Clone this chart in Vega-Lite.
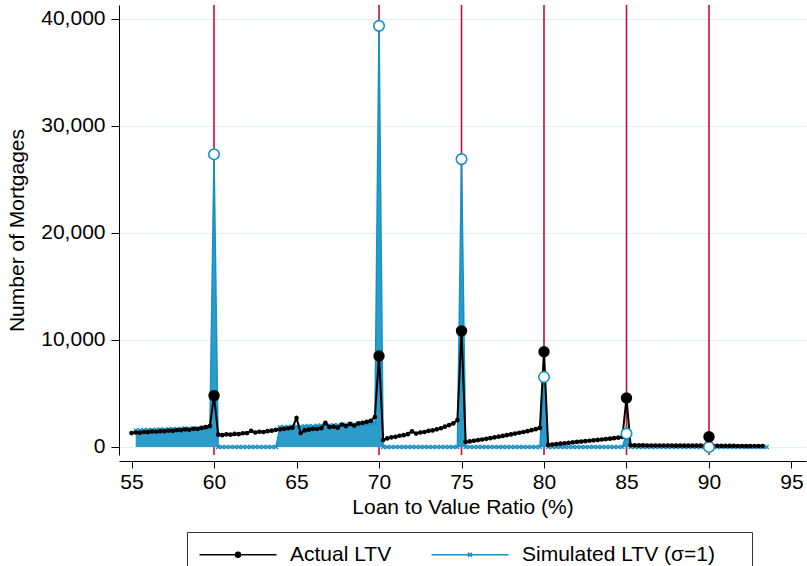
{
  "$schema": "https://vega.github.io/schema/vega-lite/v6.json",
  "width": 687,
  "height": 450,
  "autosize": {"type": "none"},
  "padding": {"left": 119, "top": 5, "right": 1, "bottom": 111},
  "background": "white",
  "config": {
    "view": {"stroke": null},
    "font": "Liberation Sans",
    "axis": {
      "labelFont": "Liberation Sans",
      "titleFont": "Liberation Sans",
      "labelFontSize": 21,
      "titleFontSize": 21,
      "titleFontWeight": "normal",
      "labelColor": "black",
      "titleColor": "black",
      "domainColor": "black",
      "tickColor": "black",
      "domainWidth": 1,
      "tickWidth": 1
    }
  },
  "data": {
    "values": [
      {"ltv": 55.0, "a": 1300, "s": null},
      {"ltv": 55.25, "a": 1350, "s": 1550},
      {"ltv": 55.5, "a": 1320, "s": 1560},
      {"ltv": 55.75, "a": 1400, "s": 1580},
      {"ltv": 56.0, "a": 1380, "s": 1600},
      {"ltv": 56.25, "a": 1450, "s": 1590},
      {"ltv": 56.5, "a": 1420, "s": 1620},
      {"ltv": 56.75, "a": 1480, "s": 1640},
      {"ltv": 57.0, "a": 1460, "s": 1630},
      {"ltv": 57.25, "a": 1530, "s": 1660},
      {"ltv": 57.5, "a": 1500, "s": 1680},
      {"ltv": 57.75, "a": 1580, "s": 1670},
      {"ltv": 58.0, "a": 1560, "s": 1700},
      {"ltv": 58.25, "a": 1640, "s": 1720},
      {"ltv": 58.5, "a": 1610, "s": 1710},
      {"ltv": 58.75, "a": 1700, "s": 1740},
      {"ltv": 59.0, "a": 1680, "s": 1760},
      {"ltv": 59.25, "a": 1780, "s": 1780},
      {"ltv": 59.5, "a": 1850, "s": 1800},
      {"ltv": 59.75, "a": 1950, "s": 1820},
      {"ltv": 60.0, "a": 4800, "s": 27350},
      {"ltv": 60.25, "a": 1150, "s": 0},
      {"ltv": 60.5, "a": 1100, "s": 0},
      {"ltv": 60.75, "a": 1180, "s": 0},
      {"ltv": 61.0, "a": 1150, "s": 0},
      {"ltv": 61.25, "a": 1220, "s": 0},
      {"ltv": 61.5, "a": 1200, "s": 0},
      {"ltv": 61.75, "a": 1280, "s": 0},
      {"ltv": 62.0, "a": 1300, "s": 0},
      {"ltv": 62.25, "a": 1500, "s": 0},
      {"ltv": 62.5, "a": 1350, "s": 0},
      {"ltv": 62.75, "a": 1420, "s": 0},
      {"ltv": 63.0, "a": 1400, "s": 0},
      {"ltv": 63.25, "a": 1480, "s": 0},
      {"ltv": 63.5, "a": 1520, "s": 0},
      {"ltv": 63.75, "a": 1600, "s": 0},
      {"ltv": 64.0, "a": 1650, "s": 1850},
      {"ltv": 64.25, "a": 1700, "s": 1870},
      {"ltv": 64.5, "a": 1750, "s": 1860},
      {"ltv": 64.75, "a": 1800, "s": 1900},
      {"ltv": 65.0, "a": 2700, "s": 1920},
      {"ltv": 65.25, "a": 1300, "s": 1900},
      {"ltv": 65.5, "a": 1550, "s": 1940},
      {"ltv": 65.75, "a": 1620, "s": 1960},
      {"ltv": 66.0, "a": 1700, "s": 1950},
      {"ltv": 66.25, "a": 1680, "s": 1980},
      {"ltv": 66.5, "a": 1760, "s": 2000},
      {"ltv": 66.75, "a": 2250, "s": 1990},
      {"ltv": 67.0, "a": 1850, "s": 2020},
      {"ltv": 67.25, "a": 1900, "s": 2040},
      {"ltv": 67.5, "a": 1800, "s": 2030},
      {"ltv": 67.75, "a": 2100, "s": 2060},
      {"ltv": 68.0, "a": 1950, "s": 2080},
      {"ltv": 68.25, "a": 2150, "s": 2070},
      {"ltv": 68.5, "a": 2000, "s": 2100},
      {"ltv": 68.75, "a": 2200, "s": 2120},
      {"ltv": 69.0, "a": 2250, "s": 2140},
      {"ltv": 69.25, "a": 2350, "s": 2160},
      {"ltv": 69.5, "a": 2450, "s": 2200},
      {"ltv": 69.75, "a": 2800, "s": 2240},
      {"ltv": 70.0, "a": 8500, "s": 39350},
      {"ltv": 70.25, "a": 650, "s": 0},
      {"ltv": 70.5, "a": 800, "s": 0},
      {"ltv": 70.75, "a": 900, "s": 0},
      {"ltv": 71.0, "a": 950, "s": 0},
      {"ltv": 71.25, "a": 1050, "s": 0},
      {"ltv": 71.5, "a": 1100, "s": 0},
      {"ltv": 71.75, "a": 1200, "s": 0},
      {"ltv": 72.0, "a": 1450, "s": 0},
      {"ltv": 72.25, "a": 1250, "s": 0},
      {"ltv": 72.5, "a": 1350, "s": 0},
      {"ltv": 72.75, "a": 1400, "s": 0},
      {"ltv": 73.0, "a": 1500, "s": 0},
      {"ltv": 73.25, "a": 1550, "s": 0},
      {"ltv": 73.5, "a": 1650, "s": 0},
      {"ltv": 73.75, "a": 1750, "s": 0},
      {"ltv": 74.0, "a": 1900, "s": 0},
      {"ltv": 74.25, "a": 2050, "s": 0},
      {"ltv": 74.5, "a": 2200, "s": 0},
      {"ltv": 74.75, "a": 2500, "s": 0},
      {"ltv": 75.0, "a": 10850, "s": 26900},
      {"ltv": 75.25, "a": 470, "s": 0},
      {"ltv": 75.5, "a": 520, "s": 0},
      {"ltv": 75.75, "a": 580, "s": 0},
      {"ltv": 76.0, "a": 640, "s": 0},
      {"ltv": 76.25, "a": 700, "s": 0},
      {"ltv": 76.5, "a": 760, "s": 0},
      {"ltv": 76.75, "a": 820, "s": 0},
      {"ltv": 77.0, "a": 900, "s": 0},
      {"ltv": 77.25, "a": 960, "s": 0},
      {"ltv": 77.5, "a": 1030, "s": 0},
      {"ltv": 77.75, "a": 1100, "s": 0},
      {"ltv": 78.0, "a": 1170, "s": 0},
      {"ltv": 78.25, "a": 1250, "s": 0},
      {"ltv": 78.5, "a": 1330, "s": 0},
      {"ltv": 78.75, "a": 1400, "s": 0},
      {"ltv": 79.0, "a": 1480, "s": 0},
      {"ltv": 79.25, "a": 1570, "s": 0},
      {"ltv": 79.5, "a": 1660, "s": 0},
      {"ltv": 79.75, "a": 1780, "s": 0},
      {"ltv": 80.0, "a": 8900, "s": 6540},
      {"ltv": 80.25, "a": 190, "s": 0},
      {"ltv": 80.5, "a": 230, "s": 0},
      {"ltv": 80.75, "a": 270, "s": 0},
      {"ltv": 81.0, "a": 310, "s": 0},
      {"ltv": 81.25, "a": 350, "s": 0},
      {"ltv": 81.5, "a": 390, "s": 0},
      {"ltv": 81.75, "a": 430, "s": 0},
      {"ltv": 82.0, "a": 470, "s": 0},
      {"ltv": 82.25, "a": 500, "s": 0},
      {"ltv": 82.5, "a": 540, "s": 0},
      {"ltv": 82.75, "a": 580, "s": 0},
      {"ltv": 83.0, "a": 620, "s": 0},
      {"ltv": 83.25, "a": 660, "s": 0},
      {"ltv": 83.5, "a": 700, "s": 0},
      {"ltv": 83.75, "a": 740, "s": 0},
      {"ltv": 84.0, "a": 780, "s": 0},
      {"ltv": 84.25, "a": 820, "s": 0},
      {"ltv": 84.5, "a": 870, "s": 0},
      {"ltv": 84.75, "a": 930, "s": 0},
      {"ltv": 85.0, "a": 4580, "s": 1250},
      {"ltv": 85.25, "a": 160, "s": 0},
      {"ltv": 85.5, "a": 150, "s": 0},
      {"ltv": 85.75, "a": 145, "s": 0},
      {"ltv": 86.0, "a": 150, "s": 0},
      {"ltv": 86.25, "a": 140, "s": 0},
      {"ltv": 86.5, "a": 140, "s": 0},
      {"ltv": 86.75, "a": 135, "s": 0},
      {"ltv": 87.0, "a": 140, "s": 0},
      {"ltv": 87.25, "a": 130, "s": 0},
      {"ltv": 87.5, "a": 135, "s": 0},
      {"ltv": 87.75, "a": 130, "s": 0},
      {"ltv": 88.0, "a": 125, "s": 0},
      {"ltv": 88.25, "a": 130, "s": 0},
      {"ltv": 88.5, "a": 125, "s": 0},
      {"ltv": 88.75, "a": 120, "s": 0},
      {"ltv": 89.0, "a": 125, "s": 0},
      {"ltv": 89.25, "a": 120, "s": 0},
      {"ltv": 89.5, "a": 120, "s": 0},
      {"ltv": 89.75, "a": 115, "s": 0},
      {"ltv": 90.0, "a": 950, "s": 0},
      {"ltv": 90.25, "a": 110, "s": 0},
      {"ltv": 90.5, "a": 105, "s": 0},
      {"ltv": 90.75, "a": 100, "s": 0},
      {"ltv": 91.0, "a": 100, "s": 0},
      {"ltv": 91.25, "a": 95, "s": 0},
      {"ltv": 91.5, "a": 95, "s": 0},
      {"ltv": 91.75, "a": 90, "s": 0},
      {"ltv": 92.0, "a": 90, "s": 0},
      {"ltv": 92.25, "a": 85, "s": 0},
      {"ltv": 92.5, "a": 85, "s": 0},
      {"ltv": 92.75, "a": 80, "s": 0},
      {"ltv": 93.0, "a": 80, "s": 0},
      {"ltv": 93.25, "a": 80, "s": 0},
      {"ltv": 93.5, "a": null, "s": 0}
    ]
  },
  "transform": [
    {"fold": ["a", "s"], "as": ["series", "n"]},
    {"filter": "isValid(datum.n)"}
  ],
  "encoding": {
    "x": {
      "field": "ltv",
      "type": "quantitative",
      "scale": {"domain": [54.24, 95.88], "nice": false, "zero": false},
      "axis": {
        "title": "Loan to Value Ratio (%)",
        "values": [55, 60, 65, 70, 75, 80, 85, 90, 95],
        "offset": 6,
        "tickSize": 7,
        "labelPadding": 3,
        "titlePadding": 4,
        "grid": false
      }
    },
    "y": {
      "field": "n",
      "type": "quantitative",
      "scale": {"domain": [-750, 41300], "nice": false, "zero": false},
      "axis": {
        "title": "Number of Mortgages",
        "values": [0, 10000, 20000, 30000, 40000],
        "format": ",.0f",
        "tickSize": 8,
        "labelPadding": 6,
        "titleX": -102,
        "titleBaseline": "middle",
        "grid": true,
        "gridColor": "#e6eef0",
        "gridWidth": 1
      }
    }
  },
  "layer": [
    {
      "data": {"values": [{"cut": 60}, {"cut": 70}, {"cut": 75}, {"cut": 80}, {"cut": 85}, {"cut": 90}]},
      "transform": [],
      "mark": {"type": "rule", "color": "#c4103a", "strokeWidth": 1.6},
      "encoding": {
        "x": {"field": "cut", "type": "quantitative"},
        "y": null
      }
    },
    {
      "transform": [{"filter": "datum.series == 's'"}],
      "mark": {"type": "area", "color": "#2c9dcb", "opacity": 1}
    },
    {
      "transform": [{"filter": "datum.series == 's'"}],
      "mark": {"type": "line", "strokeWidth": 1.5},
      "encoding": {
        "color": {
          "field": "series",
          "type": "nominal",
          "scale": {"domain": ["a", "s"], "range": ["#000000", "#1592c5"]},
          "legend": {
            "title": null,
            "orient": "none",
            "legendX": 68,
            "legendY": 527,
            "direction": "horizontal",
            "strokeColor": "#333333",
            "padding": 12,
            "labelFont": "Liberation Sans",
            "labelFontSize": 21,
            "labelColor": "black",
            "labelLimit": 400,
            "symbolSize": 100,
            "symbolStrokeWidth": 1.5,
            "labelOffset": 70,
            "columnPadding": 36,
            "labelExpr": "datum.label == 'a' ? 'Actual LTV' : 'Simulated LTV (σ=1)'",
            "encode": {
              "symbols": {
                "update": {
                  "shape": {"signal": "datum.value == 'a' ? 'M-2,0L13.4,0M5.2,0A0.5,0.5,0,1,1,6.2,0A0.5,0.5,0,1,1,5.2,0Z' : 'M-2,0L13.4,0M5.3,-0.4L6.1,0.4M5.3,0.4L6.1,-0.4M59,0'"},
                  "stroke": {"signal": "datum.value == 'a' ? '#000000' : '#1592c5'"},
                  "fill": {"signal": "datum.value == 'a' ? '#000000' : 'transparent'"},
                  "strokeWidth": {"value": 1.5},
                  "opacity": {"value": 1}
                }
              }
            }
          }
        }
      }
    },
    {
      "transform": [{"filter": "datum.series == 's'"}],
      "mark": {"type": "point", "shape": "M-1,-1L1,1M-1,1L1,-1", "filled": false, "color": "#1592c5", "size": 16, "strokeWidth": 1.3, "opacity": 1}
    },
    {
      "transform": [{"filter": "datum.series == 'a'"}],
      "mark": {"type": "line", "strokeWidth": 2},
      "encoding": {
        "color": {"field": "series", "type": "nominal"}
      }
    },
    {
      "transform": [{"filter": "datum.series == 'a'"}],
      "mark": {"type": "point", "shape": "circle", "filled": true, "color": "#000000", "size": 22, "opacity": 1}
    },
    {
      "transform": [
        {"filter": "datum.series == 's'"},
        {"filter": "indexof([60, 70, 75, 80, 85, 90], datum.ltv) >= 0"}
      ],
      "mark": {"type": "point", "shape": "circle", "filled": false, "fill": "white", "fillOpacity": 1, "stroke": "#1592c5", "strokeWidth": 1.6, "size": 110, "opacity": 1}
    },
    {
      "transform": [
        {"filter": "datum.series == 'a'"},
        {"filter": "indexof([60, 70, 75, 80, 85, 90], datum.ltv) >= 0"}
      ],
      "mark": {"type": "point", "shape": "circle", "filled": true, "color": "#000000", "size": 130, "opacity": 1}
    }
  ]
}
